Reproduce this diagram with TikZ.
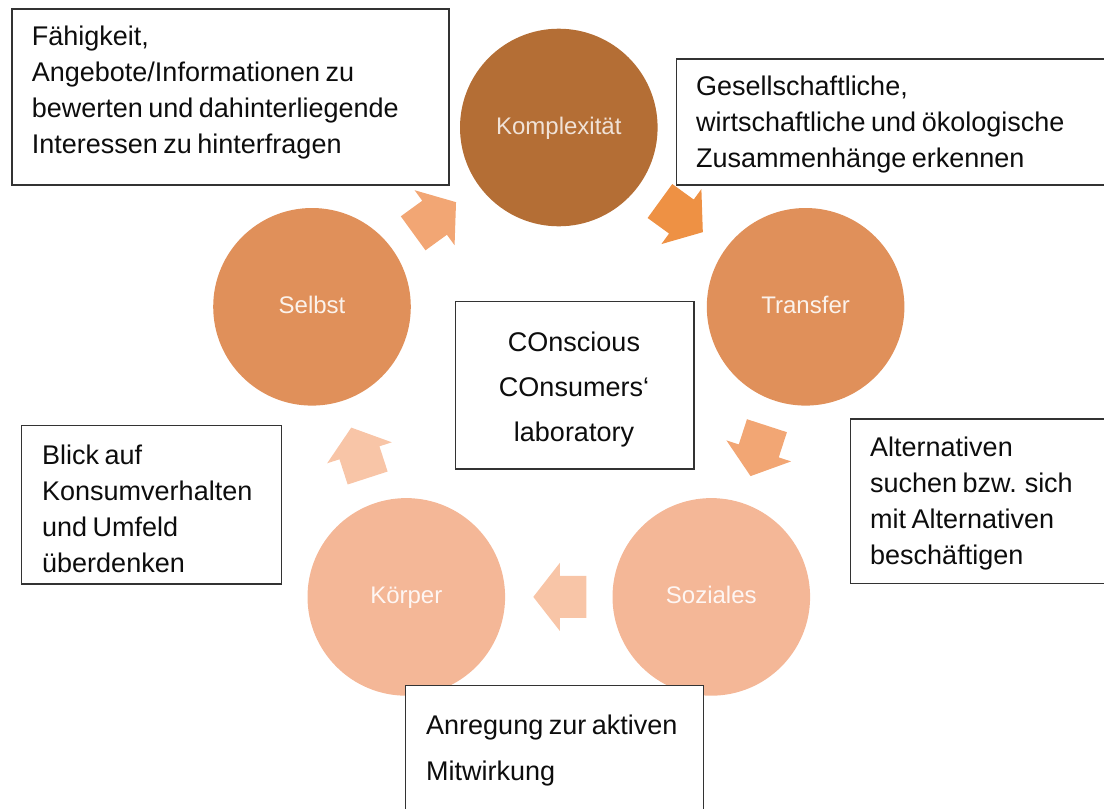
\documentclass[tikz,border=0pt]{standalone}
\usepackage{fontspec}
\setmainfont{Liberation Sans}
\usetikzlibrary{calc}
\definecolor{cDark}{HTML}{B46E35}
\definecolor{cMid}{HTML}{E0905A}
\definecolor{cLight}{HTML}{F4B797}
\definecolor{aOrange}{HTML}{EE9144}
\definecolor{aMid}{HTML}{F2A674}
\definecolor{aLight}{HTML}{F8C5A7}
\definecolor{boxline}{HTML}{333333}
\newcommand\cyclearrow[3]{%
  \pgfmathanglebetweenpoints{\pgfpointanchor{#1}{center}}{\pgfpointanchor{#2}{center}}%
  \edef\cycang{\pgfmathresult}%
  \begin{scope}[shift={($(#1)!0.5!(#2)$)}, rotate=\cycang]
    \fill[#3] (-27.5,-21) -- (-1,-21) -- (-1,-34) -- (25.5,0) -- (-1,34) -- (-1,21) -- (-27.5,21) -- cycle;
  \end{scope}}
\newcommand\tightwords{\spaceskip=5.5pt\relax}
\tikzset{
  phase/.style={circle, minimum size=197.6pt, inner sep=0pt, text height=14pt, text depth=0pt, font=\fontsize{24}{28}\selectfont},
  infobox/.style={draw=boxline, line width=1.3pt, fill=white, inner sep=0pt, anchor=north west},
  infotext/.style={inner sep=0pt, anchor=north west, align=left, font=\fontsize{27}{36}\selectfont, text=black!95},
}
\begin{document}
\begin{tikzpicture}[x=1pt, y=-1pt]
\useasboundingbox (0,0) rectangle (1104,809);
\clip (0,0) rectangle (1104,809);
% circles
\node[phase, fill=cDark, text=white!80!cDark] (kompl) at (558.8,127.5) {Komplexität};
\node[phase, fill=cMid, text=white!88!cMid] (transfer) at (805.6,306.8) {Transfer};
\node[phase, fill=cLight, text=white!88!cLight] (soziales) at (711.3,596.9) {Soziales};
\node[phase, fill=cLight, text=white!88!cLight] (koerper) at (406.3,596.9) {Körper};
\node[phase, fill=cMid, text=white!88!cMid] (selbst) at (312.0,306.8) {Selbst};
% cycle arrows
\cyclearrow{selbst}{kompl}{aMid}
\cyclearrow{kompl}{transfer}{aOrange}
\cyclearrow{transfer}{soziales}{aMid}
\cyclearrow{soziales}{koerper}{aLight}
\cyclearrow{koerper}{selbst}{aLight}
% boxes
\node[infobox, minimum width=437pt, minimum height=176pt] (boxtl) at (11.3,8.3) {};
\node[infobox, minimum width=440pt, minimum height=126pt] (boxtr) at (676,58.3) {};
\node[infobox, minimum width=260pt, minimum height=164.4pt] (boxr) at (850,418.3) {};
\node[infobox, minimum width=260pt, minimum height=158.3pt] (boxl) at (21,425) {};
\node[infobox, minimum width=297.7pt, minimum height=140pt] (boxb) at (405,685) {};
\node[infobox, minimum width=238.3pt, minimum height=167.6pt] (boxc) at (455,300.7) {};
% texts
\node[infotext] (txttl) at (31.7,20.5) {\tightwords\strut Fähigkeit,\\\tightwords Angebote/Informationen zu\\\tightwords bewerten und dahinterliegende\\\tightwords Interessen zu hinterfragen};
\node[infotext] (txttr) at (696,69.8) {\tightwords\strut Gesellschaftliche,\\\tightwords wirtschaftliche und ökologische\\\tightwords Zusammenhänge erkennen};
\node[infotext] (txtr) at (870,430.8) {\tightwords\strut Alternativen\\\tightwords suchen bzw. sich\\\tightwords mit Alternativen\\\tightwords beschäftigen};
\node[infotext] (txtl) at (42,439.1) {\tightwords\strut Blick auf\\\tightwords Konsumverhalten\\\tightwords und Umfeld\\\tightwords überdenken};
\node[infotext, font=\fontsize{27}{46}\selectfont] (txtb) at (426,701.8) {\tightwords\strut Anregung zur aktiven\\\tightwords Mitwirkung};
\node[infotext, anchor=north, align=center, font=\fontsize{27}{45}\selectfont] (txtc) at (574,320.2) {\strut COnscious\\COnsumers‘\\laboratory};
\end{tikzpicture}
\end{document}
